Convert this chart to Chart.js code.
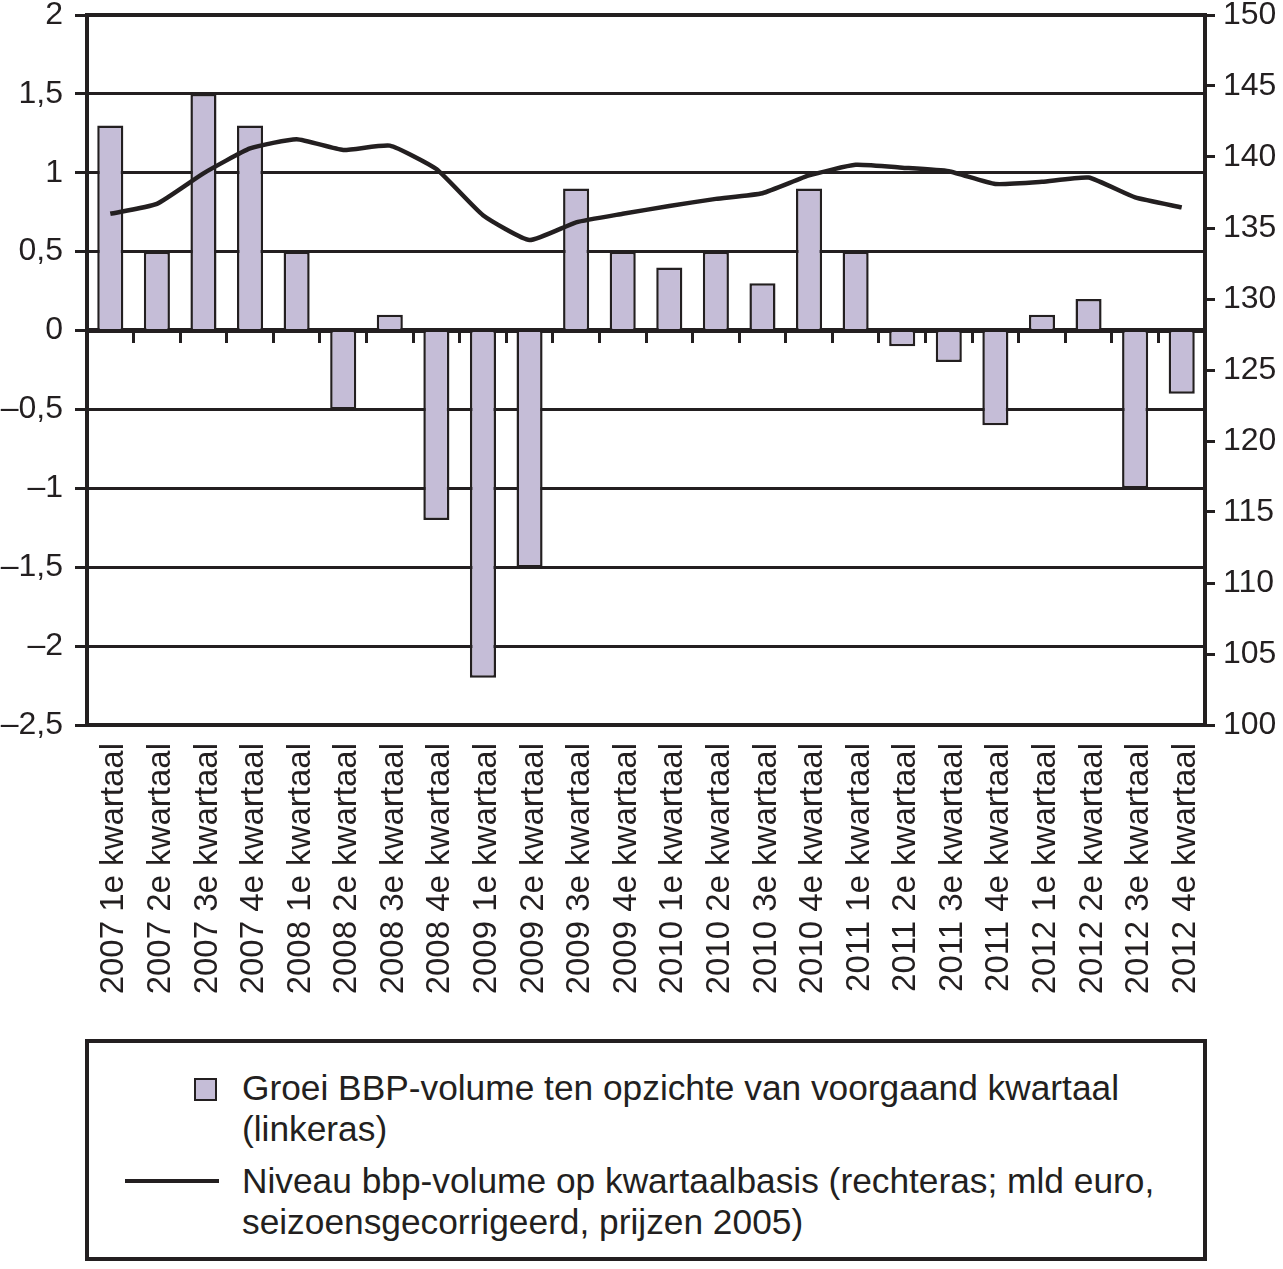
<!DOCTYPE html>
<html>
<head>
<meta charset="utf-8">
<script src="https://cdn.jsdelivr.net/npm/chart.js@4.4.0/dist/chart.umd.min.js"></script>
<style>
  html, body { margin: 0; padding: 0; background: #ffffff; }
  body { width: 1283px; height: 1269px; position: relative; overflow: hidden; font-family: "Liberation Sans", Arial, sans-serif; color: #231f20; }
  #wrap { position: absolute; left: 0; top: 0; width: 1283px; height: 1030px; }
  #legend { position: absolute; left: 85px; top: 1039px; width: 1114px; height: 214px; border: 4px solid #231f20; box-sizing: content-box; }
  .row { position: absolute; left: 0; font-size: 35.3px; line-height: 41px; }
  .sw { position: absolute; }
  .txt { position: absolute; left: 153px; white-space: nowrap; }
</style>
</head>
<body>
<div id="wrap"><canvas id="c"></canvas></div>
<div id="legend">
  <div class="sw" style="left:105px; top:35px; width:19px; height:19px; background:#c5bdd7; border:2.5px solid #231f20;"></div>
  <div class="row txt" style="top:24px;">Groei BBP-volume ten opzichte van voorgaand kwartaal<br>(linkeras)</div>
  <div class="sw" style="left:36px; top:136px; width:94px; height:4px; background:#231f20;"></div>
  <div class="row txt" style="top:117px;">Niveau bbp-volume op kwartaalbasis (rechteras; mld euro,<br>seizoensgecorrigeerd, prijzen 2005)</div>
</div>
<script>
const categories = [
  "2007 1e kwartaal","2007 2e kwartaal","2007 3e kwartaal","2007 4e kwartaal",
  "2008 1e kwartaal","2008 2e kwartaal","2008 3e kwartaal","2008 4e kwartaal",
  "2009 1e kwartaal","2009 2e kwartaal","2009 3e kwartaal","2009 4e kwartaal",
  "2010 1e kwartaal","2010 2e kwartaal","2010 3e kwartaal","2010 4e kwartaal",
  "2011 1e kwartaal","2011 2e kwartaal","2011 3e kwartaal","2011 4e kwartaal",
  "2012 1e kwartaal","2012 2e kwartaal","2012 3e kwartaal","2012 4e kwartaal"
];
const growthValues = [1.3, 0.5, 1.5, 1.3, 0.5, -0.5, 0.1, -1.2, -2.2, -1.5, 0.9, 0.5,
                      0.4, 0.5, 0.3, 0.9, 0.5, -0.1, -0.2, -0.6, 0.1, 0.2, -1.0, -0.4];
const levelValues = [136.0, 136.7, 138.85, 140.6, 141.25, 140.5, 140.8, 139.15, 135.9, 134.15, 135.4, 136.0,
                     136.55, 137.05, 137.45, 138.7, 139.45, 139.25, 139.0, 138.1, 138.25, 138.55, 137.15, 136.45];
const leftTicks = { min: -2.5, max: 2, step: 0.5 };
const rightTicks = { min: 100, max: 150, step: 5 };

const INK = '#231f20';
const FONT = { family: '"Liberation Sans", Arial, sans-serif', size: 32 };
const XFONT = { family: '"Liberation Sans", Arial, sans-serif', size: 33 };

const frame = {
  id: 'frame',
  afterDatasetsDraw(chart) {
    const a = chart.chartArea, ctx = chart.ctx;
    ctx.save();
    ctx.strokeStyle = INK;
    ctx.lineWidth = 4;
    ctx.strokeRect(a.left, a.top, a.right - a.left, a.bottom - a.top);
    ctx.restore();
  }
};

function fmtLeft(v) {
  return String(v).replace('.', ',').replace('-', '\u2013');
}

new Chart(document.getElementById('c'), {
  data: {
    labels: categories,
    datasets: [
      { type: 'line', data: levelValues, yAxisID: 'y1', xAxisID: 'x',
        borderColor: INK, borderWidth: 4.5, pointRadius: 0, tension: 0.15, order: 0 },
      { type: 'bar', data: growthValues, yAxisID: 'y', xAxisID: 'x',
        backgroundColor: '#c5bdd7', borderColor: INK, borderWidth: 2.5,
        barPercentage: 0.56, categoryPercentage: 1.0, order: 1 }
    ]
  },
  options: {
    responsive: true,
    maintainAspectRatio: false,
    animation: false,
    layout: { padding: { top: 15, left: 0, right: 0, bottom: 0 } },
    plugins: { legend: { display: false }, tooltip: { enabled: false } },
    scales: {
      x: {
        type: 'category', position: 'bottom', offset: true,
        grid: { display: false, drawTicks: false },
        border: { display: true, color: INK, width: 4 },
        ticks: { color: INK, font: XFONT, minRotation: 90, maxRotation: 90, autoSkip: false, padding: 18, labelOffset: 4 },
        afterFit(s) { s.height = 1030 - 725; s.paddingLeft = 0; s.paddingRight = 0; }
      },
      x0: {
        type: 'category', position: { y: 0 }, offset: true,
        grid: { display: true, offset: true, drawOnChartArea: false, drawTicks: true, tickLength: 10, tickWidth: 3, color: INK },
        border: { display: true, color: INK, width: 5 },
        ticks: { display: false }
      },
      y: {
        type: 'linear', position: 'left',
        min: leftTicks.min, max: leftTicks.max,
        grid: { color: INK, lineWidth: 3, tickLength: 12, drawTicks: true },
        border: { display: true, color: INK, width: 4 },
        ticks: { stepSize: leftTicks.step, color: INK, font: FONT, padding: 12, callback: v => fmtLeft(v) },
        afterFit(s) { s.width = 87; s.paddingTop = 0; s.paddingBottom = 0; }
      },
      y1: {
        type: 'linear', position: 'right',
        min: rightTicks.min, max: rightTicks.max,
        grid: { drawOnChartArea: false, color: INK, lineWidth: 3, tickLength: 10 },
        border: { display: true, color: INK, width: 4 },
        ticks: { stepSize: rightTicks.step, color: INK, font: FONT, padding: 8 },
        afterFit(s) { s.width = 1283 - 1205; s.paddingTop = 0; s.paddingBottom = 0; }
      }
    }
  },
  plugins: [frame]
});
</script>
</body>
</html>
